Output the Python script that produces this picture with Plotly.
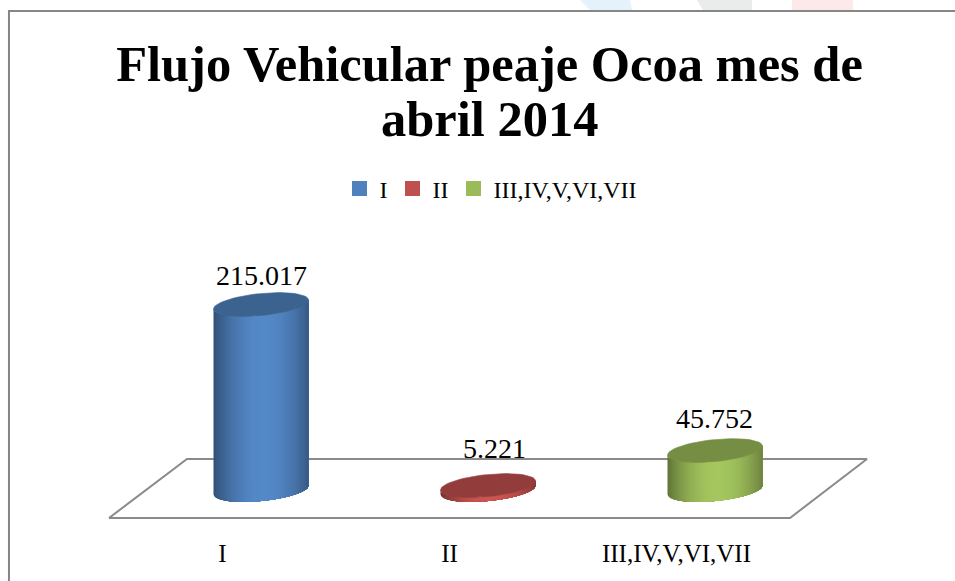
import math
import plotly.graph_objects as go

TITLE_LINE_1 = "Flujo Vehicular peaje Ocoa mes de"
TITLE_LINE_2 = "abril 2014"
CATEGORIES = ["I", "II", "III,IV,V,VI,VII"]
VALUES = [215017, 5221, 45752]
VALUE_LABELS = ["215.017", "5.221", "45.752"]
BASE_COLORS = ["#4F81BD", "#C0504D", "#9BBB59"]

W, H = 955, 581
UNIT_PX = 227.0          # px between categories
ZERO_X = 222.5           # px of category 0 on the front floor edge
BASE_Y = 490.0           # px of value 0 at the cylinder base centre
PX_PER_VALUE = 185.5 / 215017
FRONT_Y, BACK_Y = 518, 459
RADIUS_X, RADIUS_Y, TILT = 47.5, 11.0, 4.5
DEPTH_DX = 38.5
LABEL_SHIFT = [29, 37, 32]
LABEL_XSHIFT = [0, 6, -1]
STRIPS = 48
cos_, sin_ = math.cos, math.sin


def to_x(px):
    return (px - ZERO_X) / UNIT_PX


def to_y(px):
    return (BASE_Y - px) / PX_PER_VALUE


def shade(hex_color, f):
    c = [int(hex_color[i:i + 2], 16) for i in (1, 3, 5)]
    return "rgb(%d,%d,%d)" % tuple(min(255, round(v * f)) for v in c)


def arc(cx, cy, t0, t1, n=8):
    ang = [t0 + (t1 - t0) * i / n for i in range(n + 1)]
    xs = [cx + RADIUS_X * cos_(a) for a in ang]
    ys = [cy - TILT * cos_(a) + RADIUS_Y * sin_(a) for a in ang]
    return xs, ys


fig = go.Figure()

# floor
floor_px = [(109, FRONT_Y), (790, FRONT_Y), (867, BACK_Y), (187, BACK_Y), (109, FRONT_Y)]
fig.add_trace(go.Scatter(
    x=[to_x(p[0]) for p in floor_px], y=[to_y(p[1]) for p in floor_px],
    mode="lines", line=dict(color="#8A8A8A", width=2), showlegend=False, hoverinfo="skip"))

# cylinders: strips painted left to right, each overlapping the next one
for i, (val, col) in enumerate(zip(VALUES, BASE_COLORS)):
    cx = ZERO_X + UNIT_PX * i + DEPTH_DX
    top_y = BASE_Y - val * PX_PER_VALUE
    for s in range(STRIPS):
        u0 = -1 + 2 * s / STRIPS          # left edge of this strip
        t0 = math.acos(u0)
        xb, yb = arc(cx, BASE_Y, t0, 0, 16)
        xt, yt = arc(cx, top_y, 0, t0, 16)
        um = u0 + 1 / STRIPS
        f = 0.66 + 0.40 * (1 - abs(um - 0.05) ** 2.0)
        c = shade(col, f)
        fig.add_trace(go.Scatter(
            x=[to_x(p) for p in xb + xt], y=[to_y(p) for p in yb + yt],
            mode="none", fill="toself", fillcolor=c,
            showlegend=False, hoverinfo="skip"))
    xc, yc = arc(cx, top_y, 0, 2 * math.pi, 60)
    cap = shade(col, 0.76)
    fig.add_trace(go.Scatter(
        x=[to_x(p) for p in xc], y=[to_y(p) for p in yc],
        mode="lines", fill="toself", fillcolor=cap, line=dict(color=cap, width=0.6),
        showlegend=False, hoverinfo="skip"))
    fig.add_annotation(x=i + DEPTH_DX / UNIT_PX, y=val, text=VALUE_LABELS[i], showarrow=False,
                       yshift=LABEL_SHIFT[i], xshift=LABEL_XSHIFT[i],
                       font=dict(size=28, color="#000000"))

# legend entries
for name, col in zip(CATEGORIES, BASE_COLORS):
    fig.add_trace(go.Scatter(x=[None], y=[None], mode="markers", name=name,
                             marker=dict(symbol="square", size=15, color=col)))

fig.add_annotation(xref="paper", yref="paper", x=489.5 / W, y=1 - 119 / H, yanchor="middle", xanchor="center",
                   text="<b>" + TITLE_LINE_2 + "</b>", showarrow=False, font=dict(size=50.5, color="#000000"))

fig.update_layout(
    width=W, height=H, margin=dict(l=0, r=0, t=0, b=0),
    paper_bgcolor="#FFFFFF", plot_bgcolor="rgba(0,0,0,0)",
    font=dict(family="Liberation Serif", color="#000000"),
    title=dict(text="<b>" + TITLE_LINE_1 + "</b>", x=489.5 / W, xanchor="center",
               y=1 - 63 / H, yanchor="middle", font=dict(size=50.5, family="Liberation Serif")),
    legend=dict(orientation="h", x=491 / W, xanchor="center", y=1 - 189 / H, yanchor="middle",
                font=dict(size=24), itemwidth=30, tracegroupgap=0, bgcolor="rgba(0,0,0,0)"),
    xaxis=dict(range=[to_x(0), to_x(W)], tickmode="array", tickvals=[0, 1, 2], ticktext=CATEGORIES,
               tickfont=dict(size=25), showgrid=False, zeroline=False, showline=False, ticks="",
               anchor="free", position=1 - FRONT_Y / H, ticklabelstandoff=18, fixedrange=True),
    yaxis=dict(range=[to_y(H), to_y(0)], visible=False, showgrid=False, zeroline=False, fixedrange=True),
    showlegend=True,
    shapes=[
        dict(type="path", xref="paper", yref="paper", layer="below", line=dict(width=0), fillcolor=c,
             path="M %.4f 1 L %.4f 1 L %.4f %.4f L %.4f %.4f Z" % (a / W, b / W, d / W, 1 - 10 / H, e / W, 1 - 10 / H))
        for c, a, b, d, e in [("#E3F2FB", 580, 630, 632, 590),
                              ("#E9ECEA", 697, 752, 752, 703),
                              ("#FDE8EA", 792, 853, 853, 792)]
    ] + [
        dict(type="path", xref="paper", yref="paper", line=dict(color="#868686", width=2),
             path="M %.4f 0 L %.4f %.4f L 1 %.4f" % (9 / W, 9 / W, 1 - 11 / H, 1 - 11 / H))
    ],
)

fig.write_html("out.html", config={"displayModeBar": False},
               post_script="document.body.style.margin='0';document.body.style.overflow='hidden';")
